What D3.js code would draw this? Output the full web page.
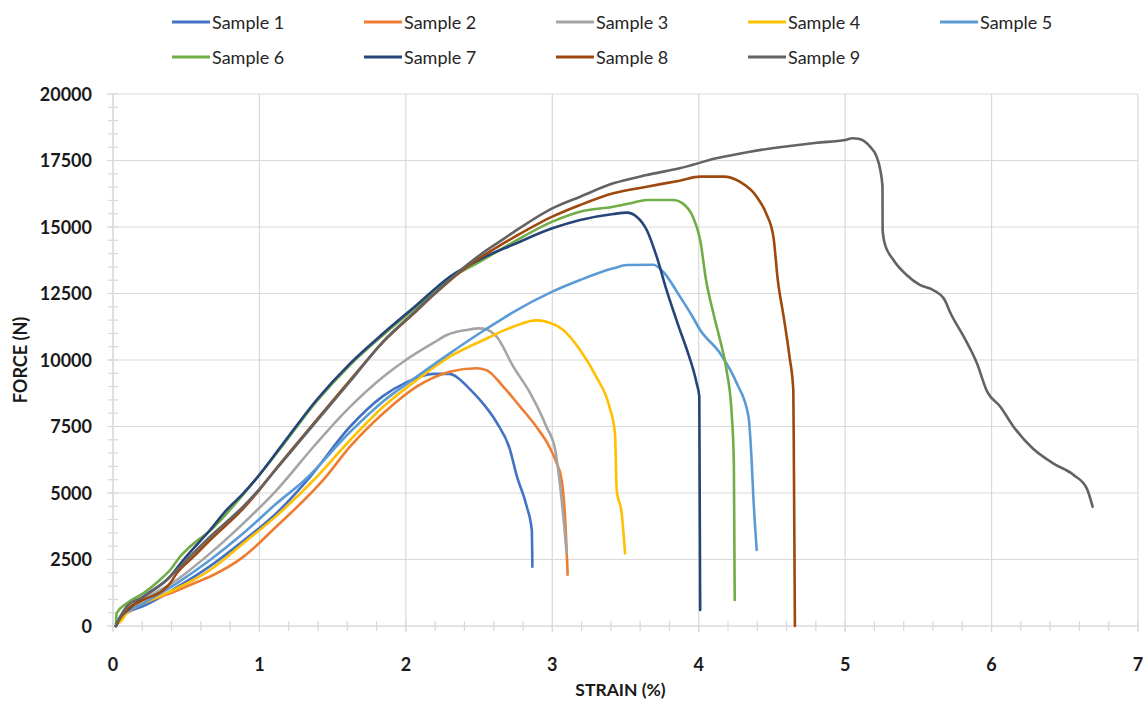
<!DOCTYPE html>
<html>
<head>
<meta charset="utf-8">
<script src="https://cdn.jsdelivr.net/npm/d3@7"></script>
<style>
  html, body { margin: 0; padding: 0; background: #fff; }
  svg { display: block; font-family: Lato, "Open Sans", sans-serif; }
</style>
</head>
<body>
<svg id="chart" width="1146" height="702"></svg>
<script>
// ---- data (strain %, force N) ----
const seriesNames = ["Sample 1","Sample 2","Sample 3","Sample 4","Sample 5","Sample 6","Sample 7","Sample 8","Sample 9"];
const seriesColors = ["#4472C4","#ED7D31","#A5A5A5","#FFC000","#5B9BD5","#70AD47","#264478","#9E480E","#636363"];

const sample1 = [[0.02,0],[0.05,300],[0.1,520],[0.207,750],[0.435,1450],[0.663,2250],[0.89,3200],[1.118,4250],[1.345,5600],[1.62,7500],[1.846,8650],[2.0,9150],[2.19,9480],[2.3,9480],[2.35,9350],[2.42,9000],[2.506,8500],[2.62,7650],[2.71,6650],[2.757,5650],[2.825,4500],[2.86,3600],[2.864,2230]];
const sample2 = [[0.02,0],[0.05,250],[0.093,480],[0.207,850],[0.39,1230],[0.55,1600],[0.663,1860],[0.89,2600],[1.118,3750],[1.436,5490],[1.62,6750],[1.846,8000],[2.074,9000],[2.3,9560],[2.48,9690],[2.55,9620],[2.665,9000],[2.78,8250],[2.89,7500],[2.98,6740],[3.03,6120],[3.064,5490],[3.087,4110],[3.105,1930]];
const sample3 = [[0.02,0],[0.05,350],[0.207,980],[0.435,1730],[0.663,2730],[0.89,3860],[1.118,5110],[1.39,6870],[1.62,8245],[1.846,9372],[2.0,10000],[2.19,10650],[2.28,10940],[2.415,11130],[2.5,11190],[2.55,11150],[2.62,10877],[2.734,9749],[2.85,8747],[2.96,7494],[3.02,6617],[3.064,4737],[3.098,2732]];
const sample4 = [[0.03,100],[0.05,150],[0.07,300],[0.093,480],[0.207,850],[0.39,1290],[0.55,1730],[0.663,2105],[0.89,3108],[1.118,4150],[1.39,5600],[1.62,6993],[1.846,8245],[2.074,9248],[2.3,10125],[2.53,10752],[2.734,11253],[2.89,11490],[2.96,11441],[3.075,11128],[3.19,10376],[3.3,9372],[3.39,8245],[3.428,7243],[3.44,5113],[3.474,4237],[3.497,2732]];
const sample5 = [[0.02,0],[0.05,320],[0.207,850],[0.435,1604],[0.663,2481],[0.89,3484],[1.118,4612],[1.31,5490],[1.62,7300],[1.846,8450],[2.074,9373],[2.3,10251],[2.53,11100],[2.64,11480],[2.734,11800],[3.0,12570],[3.19,13008],[3.417,13446],[3.51,13571],[3.69,13580],[3.76,13300],[3.87,12400],[3.95,11700],[4.01,11128],[4.146,10251],[4.26,9123],[4.34,7870],[4.36,6366],[4.373,4862],[4.396,2857]];
const sample6 = [[0.02,0],[0.025,480],[0.093,850],[0.207,1230],[0.32,1730],[0.39,2105],[0.458,2606],[0.526,2982],[0.663,3580],[0.89,4950],[1.163,6820],[1.39,8440],[1.62,9820],[1.846,10950],[2.074,12000],[2.3,13060],[2.506,13700],[2.734,14430],[3.0,15200],[3.19,15576],[3.417,15764],[3.55,15915],[3.645,16015],[3.83,16015],[3.89,15890],[3.96,15388],[4.01,14511],[4.05,13008],[4.1,11755],[4.14,10877],[4.19,9624],[4.225,7996],[4.24,6116],[4.246,977]];
const sample7 = [[0.02,0],[0.05,350],[0.1,600],[0.207,1100],[0.39,1855],[0.48,2481],[0.663,3609],[0.776,4361],[0.89,4988],[0.98,5550],[1.163,6868],[1.39,8496],[1.62,9875],[1.846,11003],[2.074,12068],[2.3,13132],[2.53,13850],[2.734,14340],[3.0,14950],[3.19,15263],[3.417,15489],[3.51,15539],[3.576,15388],[3.645,14887],[3.713,13884],[3.78,12632],[3.87,11150],[3.92,10376],[3.986,9123],[4.004,8620],[4.01,601]];
const sample8 = [[0.02,0],[0.05,300],[0.093,600],[0.207,980],[0.344,1353],[0.39,1604],[0.435,1980],[0.55,2606],[0.663,3233],[0.89,4420],[1.0,5120],[1.1,5820],[1.39,7744],[1.62,9248],[1.846,10680],[2.074,11850],[2.19,12450],[2.415,13500],[2.64,14300],[2.734,14600],[3.0,15388],[3.19,15827],[3.417,16266],[3.645,16516],[3.87,16742],[4.01,16892],[4.17,16892],[4.28,16704],[4.396,16140],[4.46,15514],[4.51,14637],[4.54,13008],[4.58,11629],[4.62,10125],[4.646,8872],[4.65,6128],[4.657,0]];
const sample9 = [[0.02,0],[0.05,350],[0.093,727],[0.207,1100],[0.367,1729],[0.435,2105],[0.663,3358],[0.89,4500],[1.0,5150],[1.1,5800],[1.39,7700],[1.62,9200],[1.846,10700],[2.074,11880],[2.19,12470],[2.415,13560],[2.506,13950],[2.64,14450],[2.734,14800],[3.0,15702],[3.19,16140],[3.417,16641],[3.645,16954],[3.87,17206],[4.12,17581],[4.35,17832],[4.58,18020],[4.806,18170],[5.0,18271],[5.05,18335],[5.09,18320],[5.17,18020],[5.215,17643],[5.24,17143],[5.255,16515],[5.256,14887],[5.27,14387],[5.33,13760],[5.42,13195],[5.51,12820],[5.6,12632],[5.68,12256],[5.72,11755],[5.81,10877],[5.9,9876],[5.97,8809],[6.06,8245],[6.15,7494],[6.28,6680],[6.42,6116],[6.56,5677],[6.65,5175],[6.69,4486]];
const seriesData = [sample1,sample2,sample3,sample4,sample5,sample6,sample7,sample8,sample9];

const xTicks = [0,1,2,3,4,5,6,7];
const yTicks = [0,2500,5000,7500,10000,12500,15000,17500,20000];
const xMinorTicks = d3.range(0, 7.0001, 0.2);
const yMinorTicks = d3.range(0, 20001, 500);
const xTitle = "STRAIN (%)";
const yTitle = "FORCE (N)";

(function draw() {
  const svg = d3.select("#chart");
  const pLeft = 113, pRight = 1138, pTop = 94, pBottom = 626;
  const x = d3.scaleLinear().domain([0,7]).range([pLeft,pRight]);
  const y = d3.scaleLinear().domain([0,20000]).range([pBottom,pTop]);
  const gridColor = "#d9d9d9";
  const textColor = "#1a1a1a";

  // gridlines
  svg.append("g").selectAll("line").data(yTicks).join("line")
    .attr("x1", pLeft - 6).attr("x2", pRight)
    .attr("y1", d => y(d)).attr("y2", d => y(d))
    .attr("stroke", gridColor).attr("stroke-width", 1.2);
  svg.append("g").selectAll("line").data(xTicks).join("line")
    .attr("x1", d => x(d)).attr("x2", d => x(d))
    .attr("y1", pTop).attr("y2", pBottom + 6)
    .attr("stroke", gridColor).attr("stroke-width", 1.2);

  // minor ticks
  svg.append("g").selectAll("line").data(yMinorTicks).join("line")
    .attr("x1", pLeft - 5).attr("x2", pLeft + 5)
    .attr("y1", d => y(d)).attr("y2", d => y(d))
    .attr("stroke", gridColor).attr("stroke-width", 1.2);
  svg.append("g").selectAll("line").data(xMinorTicks).join("line")
    .attr("x1", d => x(d)).attr("x2", d => x(d))
    .attr("y1", pBottom - 5).attr("y2", pBottom + 5)
    .attr("stroke", gridColor).attr("stroke-width", 1.2);

  // axis lines
  svg.append("line").attr("x1", pLeft).attr("x2", pLeft).attr("y1", pTop).attr("y2", pBottom)
    .attr("stroke", gridColor).attr("stroke-width", 1.2);
  svg.append("line").attr("x1", pLeft).attr("x2", pRight).attr("y1", pBottom).attr("y2", pBottom)
    .attr("stroke", gridColor).attr("stroke-width", 1.2);

  // tick labels
  svg.append("g").selectAll("text").data(yTicks).join("text")
    .attr("x", 92).attr("y", d => y(d) + 6.5)
    .attr("text-anchor", "end").attr("font-size", 18).attr("font-weight", 700)
    .attr("fill", textColor).text(d => d);
  svg.append("g").selectAll("text").data(xTicks).join("text")
    .attr("x", d => x(d)).attr("y", 671)
    .attr("text-anchor", "middle").attr("font-size", 18).attr("font-weight", 700)
    .attr("fill", textColor).text(d => d);

  // axis titles
  svg.append("text").attr("x", (pLeft + pRight) / 2 - 5).attr("y", 696)
    .attr("text-anchor", "middle").attr("font-size", 17.5).attr("font-weight", 700)
    .attr("fill", textColor).text(xTitle);
  svg.append("text").attr("transform", `translate(27,${(pTop + pBottom) / 2}) rotate(-90)`)
    .attr("text-anchor", "middle").attr("font-size", 18).attr("font-weight", 700)
    .attr("fill", textColor).text(yTitle);

  // series
  const line = d3.line().x(d => x(d[0])).y(d => y(d[1])).curve(d3.curveMonotoneX);
  svg.append("g").selectAll("path").data(seriesData).join("path")
    .attr("d", line).attr("fill", "none")
    .attr("stroke", (d, i) => seriesColors[i]).attr("stroke-width", 2.6)
    .attr("stroke-linejoin", "round").attr("stroke-linecap", "round");

  // legend
  const legend = svg.append("g").selectAll("g").data(seriesNames).join("g")
    .attr("transform", (d, i) => `translate(${172 + (i % 5) * 192},${i < 5 ? 22 : 57})`);
  legend.append("line").attr("x1", 0).attr("x2", 38).attr("y1", 0).attr("y2", 0)
    .attr("stroke", (d, i) => seriesColors[i]).attr("stroke-width", 3);
  legend.append("text").attr("x", 40).attr("y", 6.5)
    .attr("font-size", 18).attr("fill", "#262626").text(d => d);
})();
</script>
</body>
</html>
